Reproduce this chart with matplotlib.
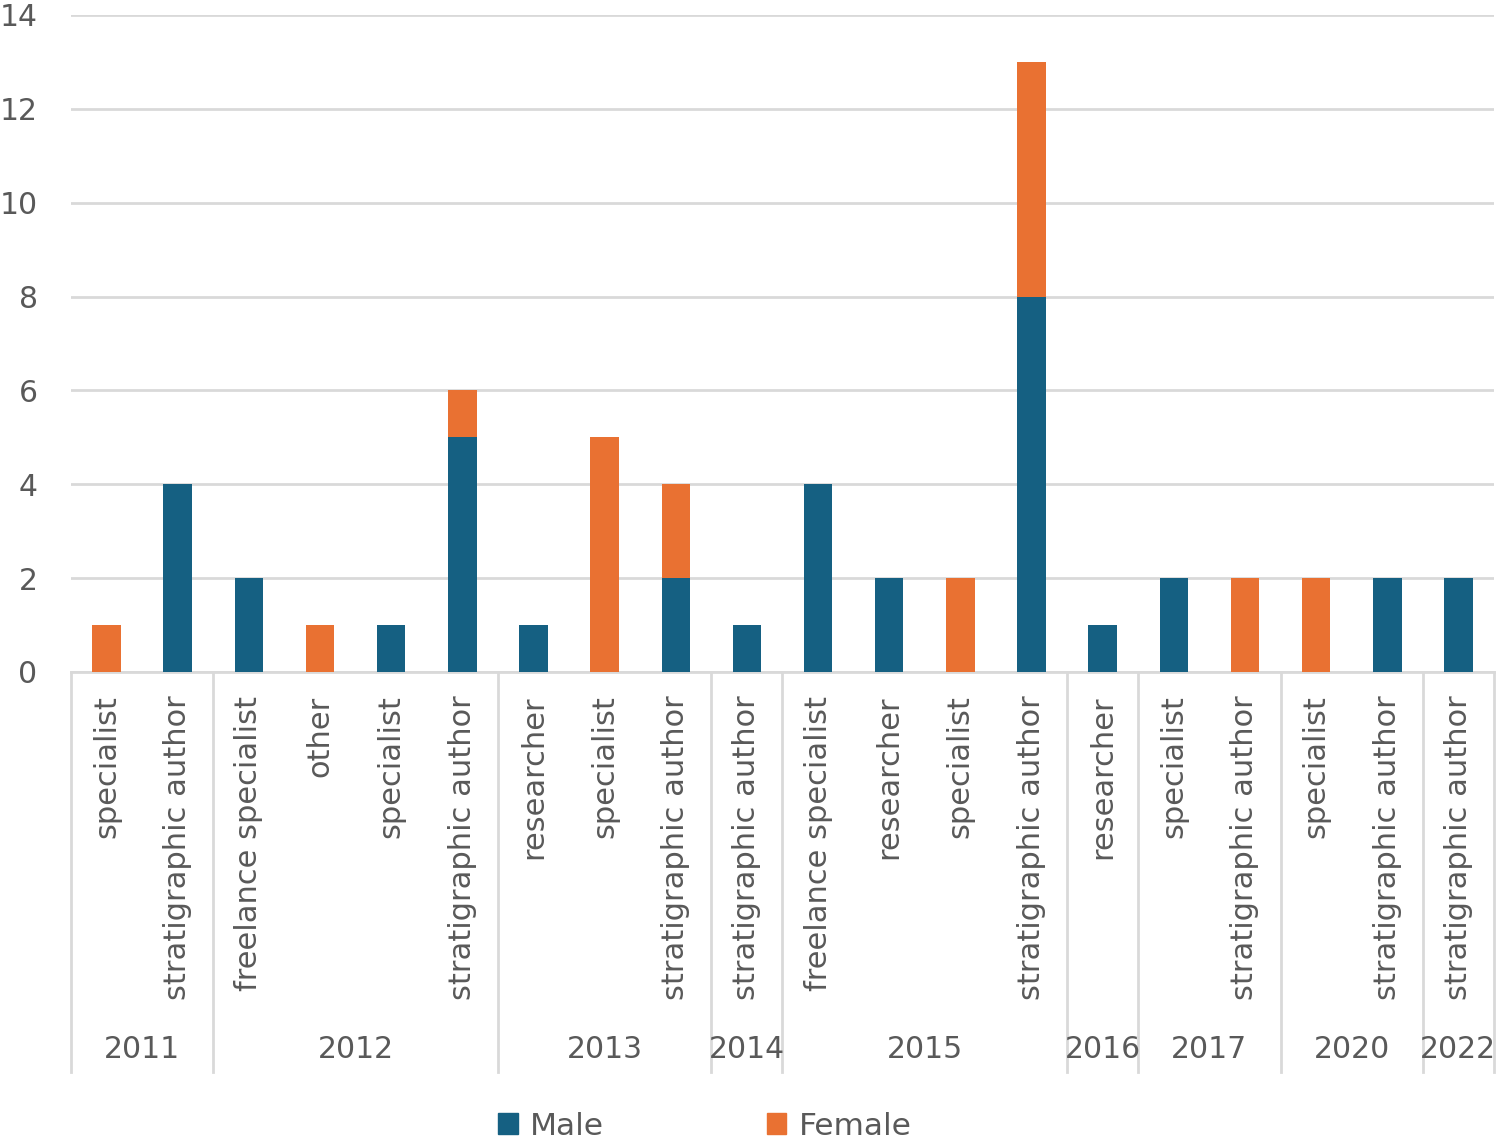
import matplotlib
matplotlib.use("Agg")
import matplotlib.pyplot as plt
from matplotlib.patches import Patch
import numpy as np

# data
years = ["2011", "2012", "2013", "2014", "2015", "2016", "2017", "2020", "2022"]
roles = [
    ["specialist", "stratigraphic author"],
    ["freelance specialist", "other", "specialist", "stratigraphic author"],
    ["researcher", "specialist", "stratigraphic author"],
    ["stratigraphic author"],
    ["freelance specialist", "researcher", "specialist", "stratigraphic author"],
    ["researcher"],
    ["specialist", "stratigraphic author"],
    ["specialist", "stratigraphic author"],
    ["stratigraphic author"],
]
male = [0, 4, 2, 0, 1, 5, 1, 0, 2, 1, 4, 2, 0, 8, 1, 2, 0, 0, 2, 2]
female = [1, 0, 0, 1, 0, 1, 0, 5, 2, 0, 0, 0, 2, 5, 0, 0, 2, 2, 0, 0]

C_MALE = "#156082"
C_FEMALE = "#E97132"
TXT = "#595959"
GRID = "#D9D9D9"

plt.rcParams["font.family"] = ["DejaVu Sans"]

fig = plt.figure(figsize=(15, 11.42), dpi=100)
ax = fig.add_axes([0.0473, 0.4116, 0.9487, 0.5753])

labels = [r for grp in roles for r in grp]
x = np.arange(len(labels))
ax.bar(x, male, width=0.4, color=C_MALE, zorder=3)
ax.bar(x, female, width=0.4, bottom=male, color=C_FEMALE, zorder=3)

ax.set_xlim(-0.5, len(labels) - 0.5)
ax.set_ylim(0, 14)
ax.set_yticks(range(0, 15, 2))
ax.yaxis.grid(True, color=GRID, linewidth=2)
ax.set_axisbelow(True)
for s in ["top", "right", "left"]:
    ax.spines[s].set_visible(False)
ax.spines["bottom"].set_color(GRID)
ax.spines["bottom"].set_linewidth(2)
ax.tick_params(axis="y", length=0, labelsize=21.5, labelcolor=TXT, pad=24)
ax.set_xticks([])

# category labels, rotated
trans = ax.get_xaxis_transform()
for xi, lab in zip(x, labels):
    ax.text(xi, -0.036, lab, rotation=90, ha="center", va="top",
            fontsize=22, color=TXT, transform=trans)

# group separators and year labels
bounds = [-0.5]
for grp in roles:
    bounds.append(bounds[-1] + len(grp))
for b in bounds:
    ax.plot([b, b], [0, -0.609], color=GRID, linewidth=2,
            transform=trans, clip_on=False)
for i, yr in enumerate(years):
    mid = (bounds[i] + bounds[i + 1]) / 2
    ax.text(mid, -0.575, yr, ha="center", va="center",
            fontsize=21.5, color=TXT, transform=trans)

handles = [Patch(color=C_MALE, label="Male"), Patch(color=C_FEMALE, label="Female")]
fig.legend(handles=handles, loc="center", bbox_to_anchor=(0.47, 0.014),
           ncol=2, frameon=False, fontsize=22.5, labelcolor=TXT,
           handlelength=0.62, handleheight=0.62, handletextpad=0.4,
           columnspacing=5.2)

fig.savefig("out.png", dpi=100)
